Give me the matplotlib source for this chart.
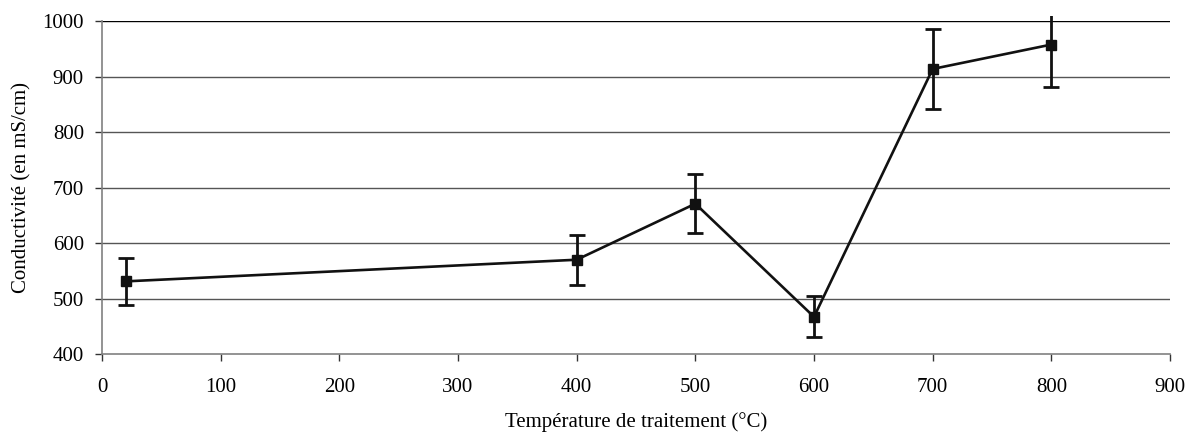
import numpy as np
import matplotlib
matplotlib.use("Agg")
import matplotlib.pyplot as plt
from matplotlib.transforms import Bbox, TransformedBbox

# data
temperature = [20, 400, 500, 600, 700, 800]
conductivity = [531, 570, 671, 467, 914, 958]
error = [43, 45, 53, 37, 72, 76]

x_ticks = [0, 100, 200, 300, 400, 500, 600, 700, 800, 900]
y_ticks = [400, 500, 600, 700, 800, 900, 1000]

plt.rcParams['font.family'] = ['Liberation Serif', 'DejaVu Serif']

fig = plt.figure(figsize=(11.9, 4.34), dpi=100)
ax = fig.add_axes([0.0857, 0.1843, 0.8975, 0.7667])

# horizontal gridlines
for y in y_ticks[1:]:
    ax.axhline(y, color='black' if y == 1000 else '#555555', lw=1.0, zorder=1)

eb = ax.errorbar(temperature, conductivity, yerr=error, color='#111111',
                 lw=1.9, marker='s', markersize=7.8, capsize=5.5, capthick=2.0,
                 elinewidth=2.0, zorder=3)

# Excel lets the bar poke a little past the plot area
clip = TransformedBbox(Bbox([[0, 0], [1, 1.015]]), ax.transAxes)
for coll in eb[2]:
    coll.set_clip_box(clip)
for cap in eb[1]:
    cap.set_clip_box(clip)

ax.set_xlim(0, 900)
ax.set_ylim(400, 1000)
ax.set_xticks(x_ticks)
ax.set_yticks(y_ticks)

for side in ['top', 'right']:
    ax.spines[side].set_visible(False)
for side in ['left', 'bottom']:
    ax.spines[side].set_color('#808080')
    ax.spines[side].set_linewidth(1.2)

ax.tick_params(axis='both', direction='out', length=5, width=1,
               color='#333333', labelsize=15)
ax.tick_params(axis='y', pad=8)
ax.tick_params(axis='x', pad=12)

ax.set_xlabel('Température de traitement (°C)', fontsize=15, labelpad=11)
ax.set_ylabel('Conductivité (en mS/cm)', fontsize=15, labelpad=8)

fig.savefig('out.png', dpi=100)
